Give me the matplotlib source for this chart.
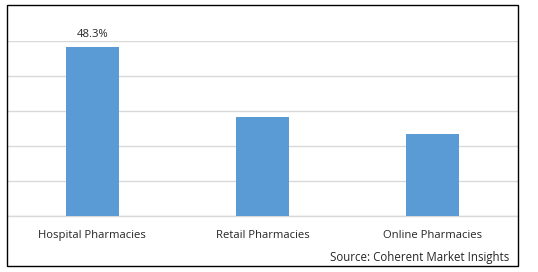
import matplotlib
matplotlib.use("Agg")
import matplotlib.pyplot as plt
from matplotlib.patches import Rectangle

categories = ["Hospital Pharmacies", "Retail Pharmacies", "Online Pharmacies"]
values = [48.3, 28.4, 23.3]
value_labels = ["48.3%", "", ""]
yticks = [0, 10, 20, 30, 40, 50]

W, H = 538, 272
fig = plt.figure(figsize=(W / 100, H / 100), dpi=100)
plt.rcParams['font.family'] = ['Open Sans', 'DejaVu Sans']
txt_color = "#262626"

# axes box in pixel coords: x 7..518, y(top) 41..216
left, right, top, bottom = 7, 518, 41, 216
ax = fig.add_axes([left / W, 1 - bottom / H, (right - left) / W, (bottom - top) / H])
x = list(range(len(categories)))
ax.bar(x, values, width=0.31, color="#5B9BD5", zorder=3)
ax.set_xlim(-0.5, len(categories) - 0.5)
ax.set_ylim(0, 50)
ax.set_yticks(yticks)
ax.yaxis.grid(True, color="#D9D9D9", linewidth=1.0, zorder=0)
ax.tick_params(axis="y", left=False, labelleft=False)
ax.tick_params(axis="x", bottom=False, labelsize=8.1, colors=txt_color, pad=6.5)
ax.set_xticks(x)
ax.set_xticklabels(categories)
for s in ["top", "right", "left"]:
    ax.spines[s].set_visible(False)
ax.spines["bottom"].set_color("#D9D9D9")
ax.spines["bottom"].set_linewidth(1.0)

for xi, v, lab in zip(x, values, value_labels):
    if lab:
        ax.annotate(lab, (xi, v), xytext=(0, 5), textcoords="offset points",
                    ha="center", va="bottom", fontsize=8.1, color=txt_color,
                    annotation_clip=False)

fig.text(509 / W, 1 - 257 / H, "Source: Coherent Market Insights", ha="right",
         va="center", fontsize=8.3, color=txt_color)

fig.patches.append(Rectangle((7 / W, 1 - 266 / H), (518 - 7) / W, (266 - 4.5) / H,
                             transform=fig.transFigure, fill=False,
                             edgecolor="black", linewidth=1.0))

fig.savefig("out.png", dpi=100, facecolor="white")
